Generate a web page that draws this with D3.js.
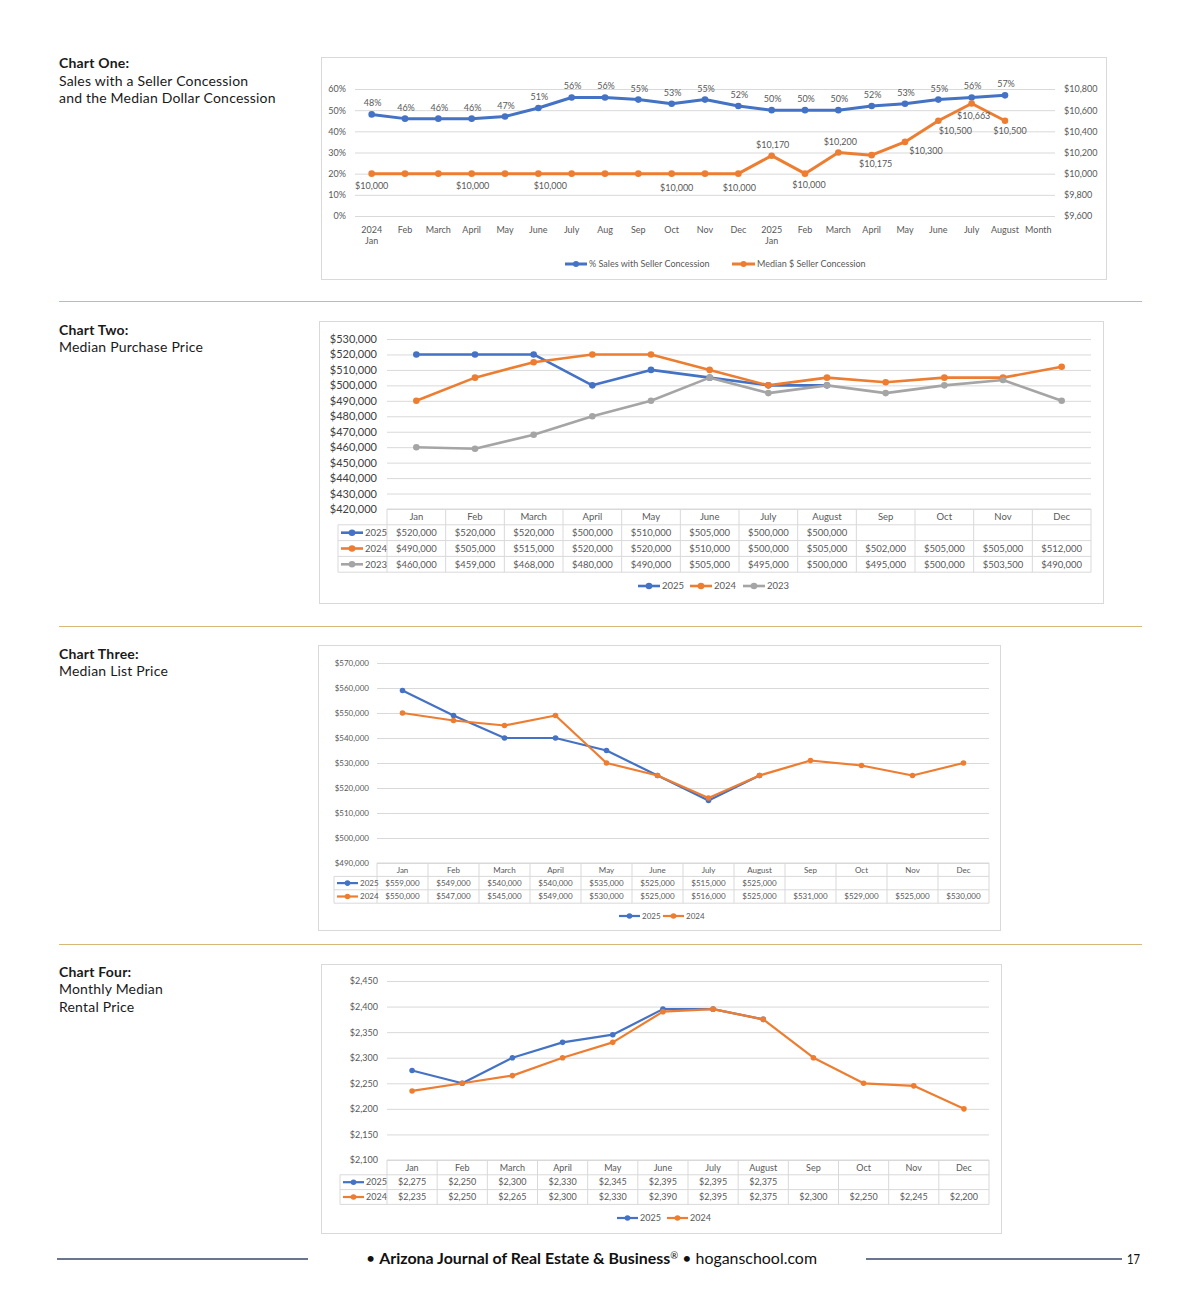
<!DOCTYPE html>
<html>
<head>
<meta charset="utf-8">
<script src="https://cdn.jsdelivr.net/npm/d3@7.9.0/dist/d3.min.js"></script>
<style>
  body { margin: 0; background: #fff; }
  svg { display: block; }
</style>
</head>
<body>
<svg id="page" width="1200" height="1302"></svg>
<script>
// ---- Chart One data ----
const c1Months = ["2024\nJan", "Feb", "March", "April", "May", "June", "July", "Aug", "Sep", "Oct", "Nov", "Dec",
                  "2025\nJan", "Feb", "March", "April", "May", "June", "July", "August", "Month"];
const c1SalesPct = [48, 46, 46, 46, 47, 51, 56, 56, 55, 53, 55, 52, 50, 50, 50, 52, 53, 55, 56, 57];
const c1MedianConcession = [10000, 10000, 10000, 10000, 10000, 10000, 10000, 10000, 10000, 10000, 10000, 10000,
                            10170, 10000, 10200, 10175, 10300, 10500, 10663, 10500];
const c1PctTicks = [0, 10, 20, 30, 40, 50, 60];
const c1DollarTicks = [9600, 9800, 10000, 10200, 10400, 10600, 10800];
const c1LabelledConcessions = [0, 3, 5, 9, 11, 12, 13, 14, 15, 16, 17, 18, 19];

// ---- Charts Two to Four data ----
const months = ["Jan", "Feb", "March", "April", "May", "June", "July", "August", "Sep", "Oct", "Nov", "Dec"];
const purchase2025 = [520000, 520000, 520000, 500000, 510000, 505000, 500000, 500000];
const purchase2024 = [490000, 505000, 515000, 520000, 520000, 510000, 500000, 505000, 502000, 505000, 505000, 512000];
const purchase2023 = [460000, 459000, 468000, 480000, 490000, 505000, 495000, 500000, 495000, 500000, 503500, 490000];
const list2025 = [559000, 549000, 540000, 540000, 535000, 525000, 515000, 525000];
const list2024 = [550000, 547000, 545000, 549000, 530000, 525000, 516000, 525000, 531000, 529000, 525000, 530000];
const rent2025 = [2275, 2250, 2300, 2330, 2345, 2395, 2395, 2375];
const rent2024 = [2235, 2250, 2265, 2300, 2330, 2390, 2395, 2375, 2300, 2250, 2245, 2200];

const sideTitles = [
  { head: "Chart One:", lines: ["Sales with a Seller Concession", "and the Median Dollar Concession"] },
  { head: "Chart Two:", lines: ["Median Purchase Price"] },
  { head: "Chart Three:", lines: ["Median List Price"] },
  { head: "Chart Four:", lines: ["Monthly Median", "Rental Price"] }
];

const FONT = "Lato, 'Open Sans', sans-serif";
const TEXT = "#595959";
const GRID = "#d9d9d9";
const BLUE = "#4472c4", ORANGE = "#ed7d31", GRAY = "#a5a5a5";
const usd = d3.format("$,");

const svg = d3.select("#page").style("font-family", FONT);

// left-hand titles
const titleY = [68, 334.5, 658.5, 976.5];
sideTitles.forEach((t, i) => {
  const txt = svg.append("text").attr("x", 59).attr("y", titleY[i])
    .attr("fill", "#1a1a1a").style("font-size", "14px").style("letter-spacing", "0.2px");
  txt.append("tspan").attr("x", 59).style("font-weight", 700).text(t.head);
  t.lines.forEach(l => txt.append("tspan").attr("x", 59).attr("dy", 17.5).text(l));
});

// separators
[301.5, 626.5, 944.5].forEach(y => {
  svg.append("line").attr("x1", 59).attr("x2", 1142).attr("y1", y).attr("y2", y)
    .attr("stroke", "#d6b77c").attr("stroke-width", 1.2);
});

function legendKey(g, x, y, color, w, r, sw) {
  g.append("line").attr("x1", x).attr("x2", x + w).attr("y1", y).attr("y2", y)
    .attr("stroke", color).attr("stroke-width", sw);
  g.append("circle").attr("cx", x + w / 2).attr("cy", y).attr("r", r).attr("fill", color);
}

// ---- Chart One ----
function chartOne() {
  const g = svg.append("g");
  g.append("rect").attr("x", 321.5).attr("y", 57.5).attr("width", 785).attr("height", 222)
    .attr("fill", "#fff").attr("stroke", GRID);

  const left = 355, right = 1055;
  const x = d3.scaleBand().domain(d3.range(c1Months.length)).range([left, right]);
  const cx = i => x(i) + x.bandwidth() / 2;
  const yPct = d3.scaleLinear().domain([0, 60]).range([216, 89]);
  const yUsd = d3.scaleLinear().domain([9600, 10800]).range([216, 89]);

  const axL = g.append("g").attr("transform", `translate(${left},0)`)
    .call(d3.axisLeft(yPct).tickValues(c1PctTicks).tickFormat(d => d + "%")
      .tickSize(-(right - left)).tickPadding(9));
  const axR = g.append("g").attr("transform", `translate(${right},0)`)
    .call(d3.axisRight(yUsd).tickValues(c1DollarTicks).tickFormat(usd).tickSize(0).tickPadding(9));
  [axL, axR].forEach(a => {
    a.select(".domain").remove();
    a.selectAll("line").attr("stroke", GRID);
    a.selectAll("text").attr("fill", TEXT).style("font-size", "9px").style("font-family", FONT);
  });

  // month labels
  c1Months.forEach((m, i) => {
    const t = g.append("text").attr("x", cx(i)).attr("y", 233).attr("text-anchor", "middle")
      .attr("fill", TEXT).style("font-size", "9px");
    m.split("\n").forEach((part, k) => t.append("tspan").attr("x", cx(i)).attr("dy", k ? 11 : 0).text(part));
  });

  const line = (ys) => d3.line().x((d, i) => cx(i)).y(d => ys(d));

  // % sales series
  g.append("path").datum(c1SalesPct).attr("d", line(yPct)).attr("fill", "none")
    .attr("stroke", BLUE).attr("stroke-width", 3).attr("stroke-linejoin", "round");
  g.selectAll(".pctDot").data(c1SalesPct).join("circle").attr("cx", (d, i) => cx(i))
    .attr("cy", d => yPct(d)).attr("r", 3.3).attr("fill", BLUE);
  g.selectAll(".pctLbl").data(c1SalesPct).join("text").attr("x", (d, i) => cx(i) + 1)
    .attr("y", d => yPct(d) - 8).attr("text-anchor", "middle").attr("fill", TEXT)
    .style("font-size", "9px").text(d => d + "%");

  // median $ series
  g.append("path").datum(c1MedianConcession).attr("d", line(yUsd)).attr("fill", "none")
    .attr("stroke", ORANGE).attr("stroke-width", 3).attr("stroke-linejoin", "round");
  g.selectAll(".usdDot").data(c1MedianConcession).join("circle").attr("cx", (d, i) => cx(i))
    .attr("cy", d => yUsd(d)).attr("r", 3.3).attr("fill", ORANGE);

  // label nudges (dx, dy) for the labelled points
  const nudge = [[0, 15], [1, 15], [12, 15], [5, 17], [1, 17], [1, -8], [4, 14], [2, -8],
                 [4, 12], [21, 12], [17, 13], [2, 16], [5, 13]];
  c1LabelledConcessions.forEach((idx, k) => {
    g.append("text").attr("x", cx(idx) + nudge[k][0]).attr("y", yUsd(c1MedianConcession[idx]) + nudge[k][1])
      .attr("text-anchor", "middle").attr("fill", TEXT).style("font-size", "9px")
      .text(usd(c1MedianConcession[idx]));
  });

  // legend
  const lg = g.append("g");
  legendKey(lg, 565, 264, BLUE, 22, 3, 3);
  lg.append("text").attr("x", 589).attr("y", 267).attr("fill", TEXT).style("font-size", "9px")
    .text("% Sales with Seller Concession");
  legendKey(lg, 732, 264, ORANGE, 23, 3, 3);
  lg.append("text").attr("x", 757).attr("y", 267).attr("fill", TEXT).style("font-size", "9px")
    .text("Median $ Seller Concession");
}

// ---- line chart with data table (Charts Two to Four) ----
function tableChart(cfg) {
  const g = svg.append("g");
  const [bx, by, bw, bh] = cfg.box;
  g.append("rect").attr("x", bx + 0.5).attr("y", by + 0.5).attr("width", bw).attr("height", bh)
    .attr("fill", "#fff").attr("stroke", GRID);

  const x = d3.scaleBand().domain(months).range([cfg.left, cfg.right]);
  const cx = i => x(months[i]) + x.bandwidth() / 2;
  const y = d3.scaleLinear().domain(cfg.yDomain).range([cfg.tableTop, cfg.plotTop]);
  const ticks = d3.range(cfg.yDomain[0], cfg.yDomain[1] + 1, cfg.yStep);

  const ax = g.append("g").attr("transform", `translate(${cfg.left},0)`)
    .call(d3.axisLeft(y).tickValues(ticks).tickFormat(usd)
      .tickSize(-(cfg.right - cfg.left)).tickPadding(cfg.axisPad));
  ax.select(".domain").remove();
  ax.selectAll("line").attr("stroke", GRID);
  ax.selectAll("text").attr("fill", cfg.axisColor).style("font-size", cfg.axisFont + "px")
    .style("font-family", FONT);

  // data table
  const rh = cfg.rowH, n = cfg.series.length;
  const tBottom = cfg.tableTop + rh * (n + 1);
  const tg = g.append("g").attr("stroke", GRID).attr("stroke-width", 1);
  tg.append("line").attr("x1", cfg.left).attr("x2", cfg.right)
    .attr("y1", cfg.tableTop).attr("y2", cfg.tableTop);
  for (let r = 1; r <= n + 1; r++) {
    const yy = cfg.tableTop + r * rh;
    tg.append("line").attr("x1", cfg.tableLeft).attr("x2", cfg.right).attr("y1", yy).attr("y2", yy);
  }
  for (let i = 0; i <= months.length; i++) {
    const xx = cfg.left + i * x.bandwidth();
    tg.append("line").attr("x1", xx).attr("x2", xx).attr("y1", cfg.tableTop).attr("y2", tBottom);
  }
  tg.append("line").attr("x1", cfg.tableLeft).attr("x2", cfg.tableLeft)
    .attr("y1", cfg.tableTop + rh).attr("y2", tBottom);

  const fs = cfg.tableFont + "px";
  months.forEach((m, i) => {
    g.append("text").attr("x", cx(i)).attr("y", cfg.tableTop + rh / 2).attr("dy", "0.35em")
      .attr("text-anchor", "middle").attr("fill", TEXT).style("font-size", fs).text(m);
  });
  cfg.series.forEach((s, r) => {
    const yy = cfg.tableTop + rh * (r + 1) + rh / 2;
    legendKey(g, cfg.tableLeft + 3, yy, s.color, cfg.keyW, cfg.r, cfg.lineW);
    g.append("text").attr("x", cfg.tableLeft + 5 + cfg.keyW).attr("y", yy).attr("dy", "0.35em")
      .attr("fill", TEXT).style("font-size", fs).text(s.name);
    s.values.forEach((v, i) => {
      g.append("text").attr("x", cx(i)).attr("y", yy).attr("dy", "0.35em").attr("text-anchor", "middle")
        .attr("fill", TEXT).style("font-size", fs).text(usd(v));
    });
  });

  // series lines
  const line = d3.line().x((d, i) => cx(i)).y(d => y(d));
  cfg.series.forEach(s => {
    g.append("path").datum(s.values).attr("d", line).attr("fill", "none")
      .attr("stroke", s.color).attr("stroke-width", cfg.lineW).attr("stroke-linejoin", "round");
    g.selectAll(null).data(s.values).join("circle").attr("cx", (d, i) => cx(i)).attr("cy", d => y(d))
      .attr("r", cfg.r).attr("fill", s.color);
  });

  // bottom legend
  cfg.series.forEach((s, k) => {
    const lx = cfg.legendX[k];
    legendKey(g, lx, cfg.legendY, s.color, cfg.keyW, cfg.r, cfg.lineW);
    g.append("text").attr("x", lx + cfg.keyW + 2).attr("y", cfg.legendY).attr("dy", "0.35em")
      .attr("fill", TEXT).style("font-size", fs).text(s.name);
  });
}

chartOne();

tableChart({
  box: [319, 321, 784, 282], left: 387, right: 1091, plotTop: 339, tableTop: 509,
  yDomain: [420000, 530000], yStep: 10000, axisPad: 10, axisFont: 11, axisColor: "#404040",
  rowH: 15.8, tableLeft: 338, tableFont: 9.5, lineW: 2.6, r: 3.3, keyW: 22,
  legendY: 586, legendX: [638, 690, 743],
  series: [
    { name: "2025", color: BLUE, values: purchase2025 },
    { name: "2024", color: ORANGE, values: purchase2024 },
    { name: "2023", color: GRAY, values: purchase2023 }
  ]
});

tableChart({
  box: [318, 645, 682, 285], left: 377, right: 989, plotTop: 663, tableTop: 863,
  yDomain: [490000, 570000], yStep: 10000, axisPad: 8, axisFont: 8, axisColor: TEXT,
  rowH: 13.4, tableLeft: 334, tableFont: 8, lineW: 2.2, r: 2.8, keyW: 21,
  legendY: 916, legendX: [619, 663],
  series: [
    { name: "2025", color: BLUE, values: list2025 },
    { name: "2024", color: ORANGE, values: list2024 }
  ]
});

tableChart({
  box: [321, 964, 680, 269], left: 387, right: 989, plotTop: 981, tableTop: 1160,
  yDomain: [2100, 2450], yStep: 50, axisPad: 9, axisFont: 9, axisColor: TEXT,
  rowH: 14.8, tableLeft: 340, tableFont: 9, lineW: 2.2, r: 2.8, keyW: 21,
  legendY: 1218, legendX: [617, 667],
  series: [
    { name: "2025", color: BLUE, values: rent2025 },
    { name: "2024", color: ORANGE, values: rent2024 }
  ]
});

// ---- footer ----
[[57, 308], [866, 1122]].forEach(([a, b]) => {
  svg.append("line").attr("x1", a).attr("x2", b).attr("y1", 1259).attr("y2", 1259)
    .attr("stroke", "#3a4768").attr("stroke-width", 1.5);
});
const foot = svg.append("text").attr("x", 366).attr("y", 1263.5).attr("fill", "#111")
  .style("font-size", "15px").attr("textLength", 451).attr("lengthAdjust", "spacingAndGlyphs");
foot.append("tspan").text("• ");
foot.append("tspan").style("font-weight", 700).text("Arizona Journal of Real Estate & Business");
foot.append("tspan").style("font-size", "9px").attr("dy", -5).text("®");
foot.append("tspan").attr("dy", 5).text(" • hoganschool.com");
svg.append("text").attr("x", 1140).attr("y", 1263.5).attr("text-anchor", "end").attr("fill", "#111")
  .style("font-size", "14px").attr("textLength", 13).attr("lengthAdjust", "spacingAndGlyphs").text("17");
</script>
</body>
</html>
